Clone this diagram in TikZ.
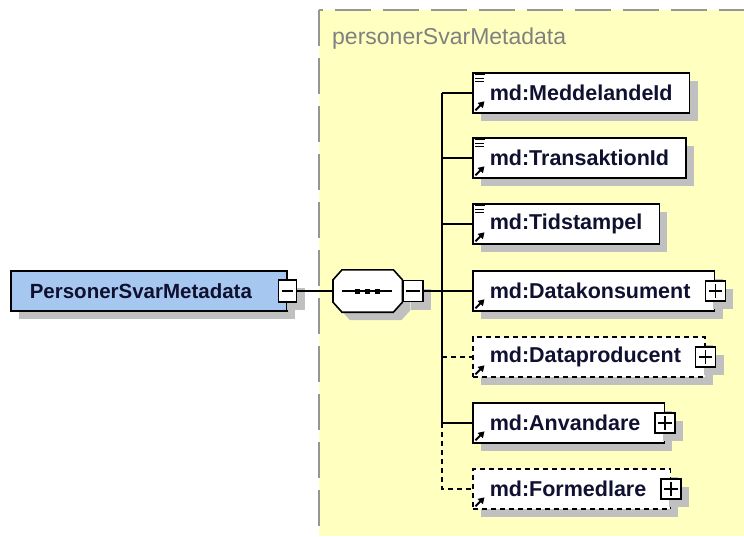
\documentclass[tikz,border=0pt]{standalone}
\usepackage{fontspec}
\setmainfont{Liberation Sans}
\usetikzlibrary{shadows,arrows.meta}

\definecolor{groupbg}{RGB}{255,255,192}
\definecolor{groupline}{RGB}{150,150,150}
\definecolor{rootblue}{RGB}{166,200,240}
\definecolor{shadowgray}{RGB}{192,192,192}
\definecolor{labelink}{RGB}{16,16,48}
\definecolor{titlegray}{RGB}{128,128,128}

\tikzset{
  shade box/.style={drop shadow={shadow xshift=8pt, shadow yshift=-8pt, fill=shadowgray, opacity=1}},
  elem/.style={draw, line width=1.6pt, fill=white, shade box, anchor=west,
    minimum height=40pt, inner xsep=17pt, inner ysep=0pt,
    font=\fontsize{21.5}{24}\selectfont\bfseries, text=labelink},
  complex/.style={elem, execute at end node={\hspace*{7pt}}},
  optional/.style={dash pattern=on 5pt off 4pt},
  toggle/.style={draw, line width=1.4pt, fill=white, shade box,
    minimum width=20pt, minimum height=20pt, inner sep=0pt},
  link/.style={line width=1.6pt},
}

\newcommand{\minusmark}[1]{\draw[line width=1.4pt] ([xshift=4pt]#1.west) -- ([xshift=-4pt]#1.east);}
\newcommand{\plusmark}[1]{\minusmark{#1}\draw[line width=1.4pt] ([yshift=-4pt]#1.north) -- ([yshift=4pt]#1.south);}
\newcommand{\simplemark}[1]{\draw[line width=1.4pt] ([shift={(3,2.5)}]#1.north west) -- ++(10,0)
  ([shift={(3,6)}]#1.north west) -- ++(9,0) ([shift={(3,9.5)}]#1.north west) -- ++(9,0);}
\newcommand{\refmark}[1]{\draw[line width=2pt, -{Triangle[length=6pt,width=7pt]}] ([shift={(3.5,-3.5)}]#1.south west) -- ++(9,-9);}

\begin{document}
\begin{tikzpicture}[x=1pt,y=-1pt]
    \useasboundingbox (0,0) rectangle (744,536);

    % group background
    \fill[groupbg] (319,10) rectangle (744,536);
    \draw[groupline, line width=2.5pt, dash pattern=on 36pt off 12pt] (319,10) -- (319,536);
    \draw[groupline, line width=2.5pt, dash pattern=on 36pt off 12pt, dash phase=32pt] (319,10) -- (744,10);
    \node[anchor=base west, inner sep=0pt, font=\fontsize{23}{26}\selectfont, text=titlegray] (title) at (332,44) {personerSvarMetadata};

    % root element
    \node[elem, fill=rootblue, inner xsep=19pt, font=\fontsize{20.5}{24}\selectfont\bfseries,
      execute at end node={\hspace*{16pt}}] (root) at (10,291) {PersonerSvarMetadata};
    \node[toggle, minimum width=18pt, minimum height=22pt] (rootm) at (root.east) {};
    \minusmark{rootm}

    % sequence
    \node[minimum width=69pt, minimum height=42pt, inner sep=0pt, anchor=west] (seq) at (333,291) {};
    \path[draw, line width=1.6pt, fill=white, shade box]
        ([xshift=9pt]seq.north west) -- ([xshift=-9pt]seq.north east) -- ([yshift=-10pt]seq.north east)
        -- ([yshift=10pt]seq.south east) -- ([xshift=-9pt]seq.south east) -- ([xshift=9pt]seq.south west)
        -- ([yshift=10pt]seq.south west) -- ([yshift=-10pt]seq.north west) -- cycle;
    \draw[line width=1.4pt] ([xshift=9pt]seq.west) -- ([xshift=-10pt]seq.east);
    \foreach \dx in {-10,0,10}
        \fill ([xshift=\dx pt]seq.center) +(-2.5,-2.5) rectangle +(2.5,2.5);
    \node[toggle, anchor=west, minimum height=21pt] (seqm) at (seq.east) {};
    \minusmark{seqm}

    \draw[link] (rootm) -- (seq);
    \coordinate (bus) at (442,291);
    \draw[link] (seqm) -- (bus);

    % children
    \node[elem] (c1) at (472,93) {md:MeddelandeId};
    \node[elem] (c2) at (472,158) {md:TransaktionId};
    \node[elem] (c3) at (472,224) {md:Tidstampel};
    \node[complex] (c4) at (472,291) {md:Datakonsument};
    \node[complex, optional] (c5) at (472,357) {md:Dataproducent};
    \node[complex] (c6) at (472,423) {md:Anvandare};
    \node[complex, optional] (c7) at (472,489) {md:Formedlare};

    \node[toggle] (c4p) at (c4.east) {};
    \node[toggle] (c5p) at (c5.east) {};
    \node[toggle] (c6p) at (c6.east) {};
    \node[toggle] (c7p) at (c7.east) {};
    \plusmark{c4p} \plusmark{c5p} \plusmark{c6p} \plusmark{c7p}

    \foreach \n in {c1,c2,c3} {\simplemark{\n}}
    \foreach \n in {c1,c2,c3,c4,c5,c6,c7} {\refmark{\n}}

    % connectors
    \draw[link] (bus |- c1) -- (bus |- c6);
    \draw[link, optional] (bus |- c6) |- (c7);
    \draw[link] (bus |- c1) -- (c1);
    \draw[link] (bus |- c2) -- (c2);
    \draw[link] (bus |- c3) -- (c3);
    \draw[link] (bus |- c4) -- (c4);
    \draw[link, optional] (bus |- c5) -- (c5);
    \draw[link] (bus |- c6) -- (c6);
\end{tikzpicture}
\end{document}
